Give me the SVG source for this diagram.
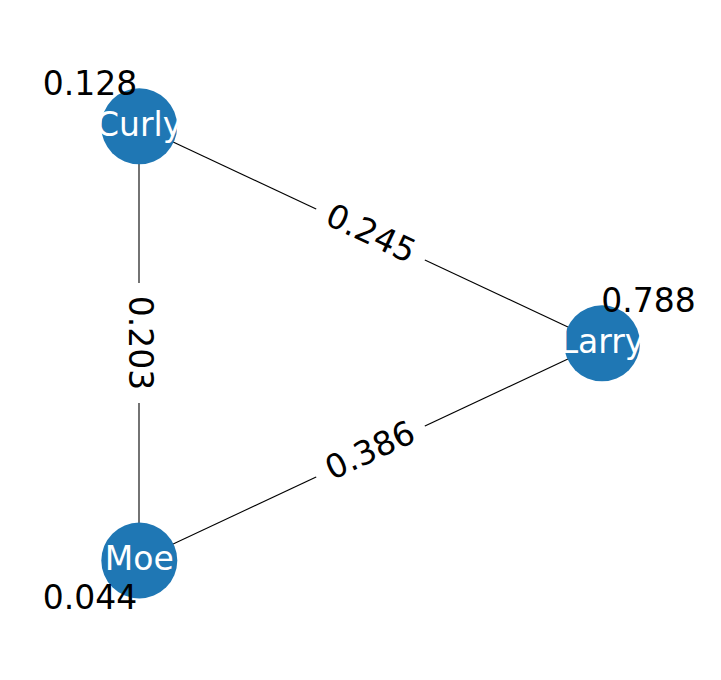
<svg xmlns="http://www.w3.org/2000/svg" width="721" height="680" viewBox="0 0 721 680">
<style>
text{font-family:"DejaVu Sans","Liberation Sans",sans-serif;font-size:33px;text-anchor:middle}
.node circle{fill:#1f77b4}
.node text{fill:#ffffff}
.edge line{stroke:#000;stroke-width:1.1}
.elabel rect{fill:#fff}
.elabel text,.score{fill:#000}
</style>
<rect width="721" height="680" fill="#fff"/>
<g id="edges" class="edge">
<line x1="139" y1="126" x2="602" y2="343"/>
<line x1="139" y1="126" x2="139" y2="560"/>
<line x1="139" y1="560" x2="602" y2="343"/>
</g>
<g id="edge-labels" class="elabel">
<g transform="translate(370.5,234.5) rotate(25.1)"><rect x="-60" y="-23" width="120" height="46"/><text x="0" y="10">0.245</text></g>
<g transform="translate(139,343) rotate(90)"><rect x="-60" y="-23" width="120" height="46"/><text x="0" y="10">0.203</text></g>
<g transform="translate(370.5,451.5) rotate(-25.1)"><rect x="-60" y="-23" width="120" height="46"/><text x="0" y="10">0.386</text></g>
</g>
<g id="node-curly" class="node"><circle cx="139.2" cy="126.3" r="38"/><text x="139.2" y="136.3">Curly</text></g>
<g id="node-larry" class="node"><circle cx="602" cy="343.3" r="38"/><text x="602" y="353.3">Larry</text></g>
<g id="node-moe" class="node"><circle cx="139.3" cy="560.5" r="38"/><text x="139.3" y="569.5">Moe</text></g>
<g id="scores">
<text class="score" x="90" y="94.5">0.128</text>
<text class="score" x="648.5" y="311.7">0.788</text>
<text class="score" x="90" y="609">0.044</text>
</g>
</svg>
